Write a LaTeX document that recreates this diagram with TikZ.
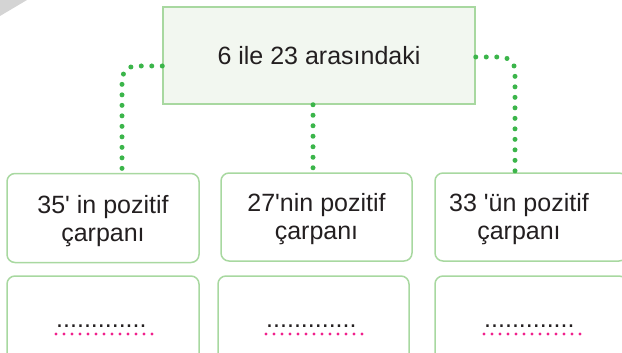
\documentclass[tikz,border=0pt]{standalone}
\usepackage{fontspec}
\setmainfont{Liberation Sans}
\definecolor{boxedge}{HTML}{A8D8A0}
\definecolor{boxfill}{HTML}{F2F7F0}
\definecolor{linkgreen}{HTML}{3BB54A}
\definecolor{dotpink}{HTML}{F0208C}
\definecolor{cornergray}{HTML}{D4D4D4}
\definecolor{txt}{HTML}{231F20}
\tikzset{
  topbox/.style={draw=boxedge, fill=boxfill, line width=1.5pt, minimum width=312pt,
    minimum height=97pt, inner sep=0pt, font=\fontsize{25}{30}\selectfont, text=txt},
  cardbox/.style={draw=boxedge, line width=1.5pt, rounded corners=8pt, minimum width=192pt,
    minimum height=89pt, inner sep=0pt},
  cardtext/.style={align=center, inner sep=0pt, font=\fontsize{25}{28}\selectfont, text=txt},
  link/.style={draw=linkgreen, line width=5pt, line cap=round, dash pattern=on 0pt off 10.5pt,
    rounded corners=14pt},
  fillin/.style={font=\fontsize{25}{28}\selectfont, text=txt, inner sep=0pt},
  pinkline/.style={draw=dotpink, line width=3.2pt, line cap=round, dash pattern=on 0pt off 8pt}
}
\begin{document}
\begin{tikzpicture}[x=1pt,y=-1pt]
  \useasboundingbox (0,0) rectangle (622,353);
  \fill[cornergray] (0,0) -- (27,0) -- (0,16) -- cycle;

  \node[topbox] (top) at (319,55.5) {6 ile 23 arasındaki};

  % upper row of cards
  \node[cardbox] (b1) at (103,218) {};
  \node[cardbox, minimum width=191pt, minimum height=88pt] (b2) at (316.5,217) {};
  \node[cardbox, minimum height=88pt] (b3) at (531,217) {};
  \node[cardtext] (t1) at (103,221) {35\textquotesingle{} in pozitif\\çarpanı};
  \node[cardtext] (t2) at (316.5,219) {27\textquotesingle nin pozitif\\çarpanı};
  \node[cardtext] (t3) at (519,219) {33 \textquotesingle ün pozitif\\çarpanı};

  % lower row of cards with blanks
  \node[cardbox, minimum height=90pt] (c1) at (103,321) {};
  \node[cardbox, minimum width=191pt, minimum height=90pt] (c2) at (313.5,321) {};
  \node[cardbox, minimum height=90pt] (c3) at (531,321) {};

  \node[fillin, anchor=base west] (d1) at (56,327) {.............};
  \node[fillin, anchor=base west] (d2) at (266,327) {.............};
  \node[fillin, anchor=base west] (d3) at (484,327) {.............};
  \draw[pinkline] (d1.south west |- 0,334) -- ++(96,0);
  \draw[pinkline] (d2.south west |- 0,334) -- ++(96,0);
  \draw[pinkline] (d3.south west |- 0,334) -- ++(96,0);

  % dotted connectors
  \coordinate (l1) at ([xshift=19pt]b1.north);
  \coordinate (l2) at ([xshift=-3.5pt]b2.north);
  \coordinate (l3) at ([xshift=-16pt]b3.north);
  \draw[link] ([yshift=-10.5pt]top.west) -| (l1);
  \draw[link] (top.south -| l2) -- (l2);
  \draw[link] ([yshift=-1.5pt]top.east) -| (l3);
\end{tikzpicture}
\end{document}
